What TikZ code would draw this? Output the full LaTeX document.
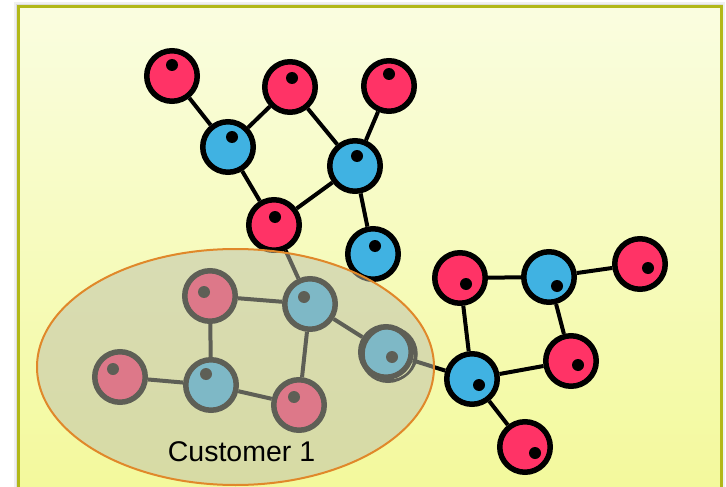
\documentclass[tikz,border=0pt]{standalone}
\usepackage{fontspec}
\setmainfont{Liberation Sans}
\usetikzlibrary{calc}
\definecolor{molred}{RGB}{255,51,102}
\definecolor{molblue}{RGB}{64,178,226}
\definecolor{frameolive}{RGB}{178,184,24}
\definecolor{bgtop}{RGB}{250,253,224}
\definecolor{bgbottom}{RGB}{243,249,155}
\definecolor{groupgray}{RGB}{188,190,172}
\definecolor{grouprim}{RGB}{224,136,42}
\tikzset{
  atom/.style={circle, draw=black, line width=5.5pt, minimum size=50.5pt, inner sep=0pt},
  ratom/.style={atom, fill=molred},
  batom/.style={atom, fill=molblue},
  bond/.style={draw=black, line width=4pt},
  core/.style={fill=black},
  grouplabel/.style={font=\fontsize{28.5}{34}\selectfont, anchor=base, inner sep=0pt},
}
\newcommand{\core}[3]{\fill[core] ($(#1)+(#2,#3)$) circle (6);}
\begin{document}
\begin{tikzpicture}[x=1pt,y=-1pt]
\useasboundingbox (0,0) rectangle (726,487);
\fill[white] (0,0) rectangle (726,487);

% panel with soft shadow
\fill[black, opacity=0.06] (14,2) rectangle (725,495);
\fill[black, opacity=0.08] (16,4) rectangle (723,495);
\shade[top color=bgtop, bottom color=bgbottom] (18.7,6.2) rectangle (721.3,495);
\draw[frameolive, line width=3pt] (18.7,495) -- (18.7,6.2) -- (721.3,6.2) -- (721.3,495);

% upper molecule
\node[ratom] (r1) at (172,76) {};
\node[ratom] (r2) at (290,87) {};
\node[ratom] (r3) at (389,86) {};
\node[batom] (b1) at (228,147) {};
\node[batom] (b2) at (355,166) {};
\node[ratom] (r4) at (274,225) {};
\node[batom] (b3) at (373,254) {};

% customer molecule
\node[ratom] (cr1) at (210,296) {};
\node[batom] (cb1) at (310,304) {};
\node[ratom] (cr2) at (120,377) {};
\node[batom] (cb2) at (211,385) {};
\node[ratom] (cr3) at (299,405) {};
\node[batom] (cb3) at (386,352) {};
\draw[line width=2.5pt] ($(cb3)+(4,2)$) circle (26.5);
\draw[line width=2pt] ($(cb3)+(2,3)$) circle (27);

% right molecule
\node[ratom] (rr1) at (460,278) {};
\node[batom] (rb1) at (549,277) {};
\node[ratom] (rr2) at (640,264) {};
\node[ratom] (rr3) at (571,361) {};
\node[batom] (rb2) at (472,379) {};
\node[ratom] (rr4) at (525,447) {};

% bonds
\path[bond] (r1) -- (b1);
\path[bond] (b1) -- (r2);
\path[bond] (r2) -- (b2);
\path[bond] (r3) -- (b2);
\path[bond] (b1) -- (r4);
\path[bond] (r4) -- (b2);
\path[bond] (b2) -- (b3);
\path[bond] (r4) -- (cb1);
\path[bond] (cr1) -- (cb1);
\path[bond] (cr1) -- (cb2);
\path[bond] (cr2) -- (cb2);
\path[bond] (cb2) -- (cr3);
\path[bond] (cb1) -- (cr3);
\path[bond] (cb1) -- (cb3);
\path[bond] (cb3) -- (rb2);
\path[bond] (rr1) -- (rb1);
\path[bond] (rb1) -- (rr2);
\path[bond] (rr1) -- (rb2);
\path[bond] (rb1) -- (rr3);
\path[bond] (rb2) -- (rr3);
\path[bond] (rb2) -- (rr4);

% cores
\core{r1}{0}{-11}
\core{r2}{2}{-9}
\core{r3}{0}{-12}
\core{b1}{4}{-10}
\core{b2}{2}{-10}
\core{r4}{1}{-8}
\core{b3}{2}{-8}
\core{cr1}{-6}{-4}
\core{cb1}{-6}{-7}
\core{cr2}{-7}{-8}
\core{cb2}{-5}{-11}
\core{cr3}{-5}{-8}
\core{cb3}{6}{5}
\core{rr1}{6}{6}
\core{rb1}{8}{9}
\core{rr2}{8}{4}
\core{rr3}{7}{4}
\core{rb2}{7}{6}
\core{rr4}{10}{6}

% customer grouping
\path[fill=groupgray, fill opacity=0.5, draw=grouprim, line width=2pt]
  (235.5,367) ellipse [x radius=198.5, y radius=118];
\node[grouplabel] (cust) at (241.5,461.5) {Customer 1};
\end{tikzpicture}
\end{document}
